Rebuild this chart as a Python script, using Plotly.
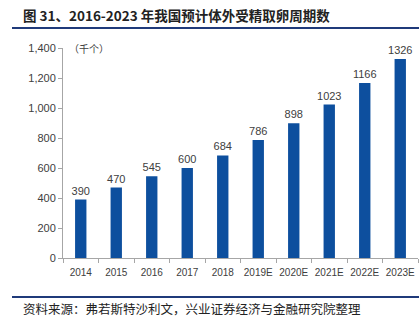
import plotly.graph_objects as go

categories = ["2014", "2015", "2016", "2017", "2018", "2019E", "2020E", "2021E", "2022E", "2023E"]
values = [390, 470, 545, 600, 684, 786, 898, 1023, 1166, 1326]
y_ticks = [0, 200, 400, 600, 800, 1000, 1200, 1400]
y_tick_labels = ["0", "200", "400", "600", "800", "1,000", "1,200", "1,400"]

W, H = 419, 325
fig = go.Figure()
fig.add_trace(go.Bar(
    x=categories, y=values, width=0.32,
    marker=dict(color="#0d4f9e", line=dict(width=0)),
    text=[str(v) for v in values], textposition="outside",
    textfont=dict(family="Liberation Sans, Arial", size=11, color="#404040"),
    cliponaxis=False, constraintext="none",
))

fig.update_layout(
    width=W, height=H,
    margin=dict(l=63, r=1, t=48, b=67),
    paper_bgcolor="white", plot_bgcolor="white",
    showlegend=False,
    uniformtext=dict(minsize=11, mode="show"),
    font=dict(family="Liberation Sans, Arial", size=11, color="#404040"),
    xaxis=dict(
        type="category", showline=True, linecolor="#a6a6a6", linewidth=1,
        ticks="outside", tickson="boundaries", ticklen=4, tickcolor="#a6a6a6",
        tickangle=0, ticklabelstandoff=5,
        tickfont=dict(size=10, color="#404040"), showgrid=False,
    ),
    yaxis=dict(
        range=[0, 1400], tickvals=y_ticks, ticktext=y_tick_labels,
        showline=True, linecolor="#a6a6a6", linewidth=1,
        ticks="outside", ticklen=4, tickcolor="#a6a6a6",
        tickfont=dict(size=11, color="#404040"), showgrid=False, zeroline=False,
    ),
    shapes=[
        dict(type="line", xref="paper", yref="paper", x0=-51/355, x1=356/355,
             y0=1 + 20/210, y1=1 + 20/210, line=dict(color="#1f3a7a", width=2)),
        dict(type="line", xref="paper", yref="paper", x0=-51/355, x1=356/355,
             y0=-39/210, y1=-39/210, line=dict(color="#1f3a7a", width=2)),
    ],
    annotations=[
        dict(text="<b>图 31、2016-2023 年我国预计体外受精取卵周期数</b>",
             xref="paper", yref="paper", x=-42/355, y=1 + 33/210,
             xanchor="left", yanchor="middle", showarrow=False,
             font=dict(family="Noto Sans CJK SC", size=13.5, color="#222222")),
        dict(text="（千个）", xref="paper", yref="paper", x=4/355, y=1.0,
             xanchor="left", yanchor="middle", showarrow=False,
             font=dict(family="Noto Sans CJK SC", size=10, color="#404040")),
        dict(text="资料来源：弗若斯特沙利文，兴业证券经济与金融研究院整理",
             xref="paper", yref="paper", x=-42/355, y=-50/210,
             xanchor="left", yanchor="middle", showarrow=False,
             font=dict(family="Noto Sans CJK SC", size=12.5, color="#222222")),
    ],
)

fig.write_html("out.html")
